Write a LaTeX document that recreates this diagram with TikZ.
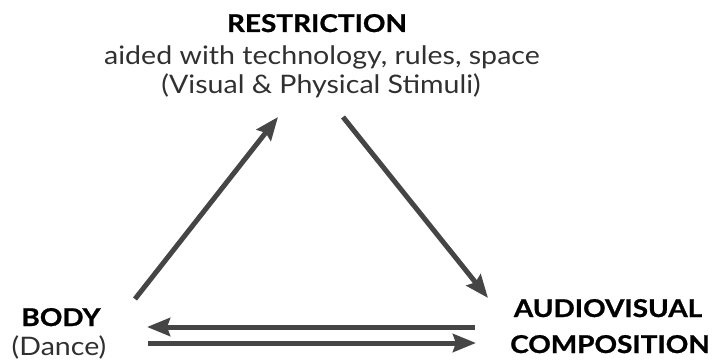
\documentclass[tikz,border=0pt]{standalone}
\usepackage{fontspec}
\setmainfont{Lato}
\newfontfamily\headfont{Lato}[FakeStretch=1.14, BoldFeatures={FakeBold=0.9}]
\newfontfamily\subfont{Lato}[FakeStretch=1.12]
\usetikzlibrary{arrows.meta}
\definecolor{arrowgray}{HTML}{454545}
\definecolor{textgray}{HTML}{303030}
\begin{document}
\begin{tikzpicture}[x=1pt,y=-1pt,
  head/.style={font=\headfont\fontsize{24.5}{30}\selectfont\bfseries, text=black,
    inner sep=0pt, anchor=base},
  sub/.style={font=\subfont\fontsize{25.5}{30}\selectfont, text=textgray,
    inner sep=0pt, anchor=base},
  flow/.style={draw=arrowgray, line width=5pt,
    -{Stealth[length=23pt,width=18pt,inset=3pt]}}]
  \useasboundingbox (0,0) rectangle (712,361);
  % top label
  \node[head] (restr) at (317,32) {RESTRICTION};
  \node[sub] (restrsub) at (322,64) {aided with technology, rules, space};
  \node[sub] (stimuli) at (321,93) {(Visual \& Physical Stimuli)};
  % bottom left label
  \node[head] (body) at (61,326) {BODY};
  \node[sub] (dance) at (59,355) {(Dance)};
  % bottom right label
  \node[head] (av) at (608,317) {AUDIOVISUAL};
  \node[head] (comp) at (610,353) {COMPOSITION};
  % arrow end points
  \coordinate (b1) at (135,299);
  \coordinate (r1) at (278,117);
  \coordinate (r2) at (343,117);
  \coordinate (a1) at (488,298);
  \coordinate (a2) at (475,327);
  \coordinate (b2) at (147,327);
  \coordinate (b3) at (148,343);
  \coordinate (a3) at (476,343);
  \draw[flow] (b1) -- (r1);
  \draw[flow] (r2) -- (a1);
  \draw[flow] (a2) -- (b2);
  \draw[flow] (b3) -- (a3);
\end{tikzpicture}
\end{document}
